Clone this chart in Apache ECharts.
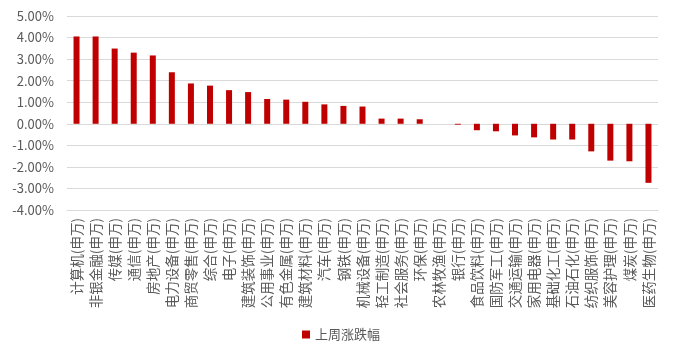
<!DOCTYPE html>
<html>
<head>
<meta charset="utf-8">
<script src="https://cdn.jsdelivr.net/npm/echarts@6/dist/echarts.min.js"></script>
<style>
  html, body { margin: 0; padding: 0; background: #fff; }
  #chart { width: 675px; height: 354px; }
</style>
</head>
<body>
<div id="chart"></div>
<script>
// 行业名称（申万一级）
const industries = [
  '计算机(申万)', '非银金融(申万)', '传媒(申万)', '通信(申万)', '房地产(申万)',
  '电力设备(申万)', '商贸零售(申万)', '综合(申万)', '电子(申万)', '建筑装饰(申万)',
  '公用事业(申万)', '有色金属(申万)', '建筑材料(申万)', '汽车(申万)', '钢铁(申万)',
  '机械设备(申万)', '轻工制造(申万)', '社会服务(申万)', '环保(申万)', '农林牧渔(申万)',
  '银行(申万)', '食品饮料(申万)', '国防军工(申万)', '交通运输(申万)', '家用电器(申万)',
  '基础化工(申万)', '石油石化(申万)', '纺织服饰(申万)', '美容护理(申万)', '煤炭(申万)',
  '医药生物(申万)'
]
// 上周涨跌幅 (%)
const weeklyChange = [
  4.05, 4.05, 3.49, 3.30, 3.17,
  2.39, 1.87, 1.77, 1.56, 1.47,
  1.15, 1.12, 1.02, 0.90, 0.83,
  0.80, 0.24, 0.24, 0.21, 0.00,
  -0.04, -0.30, -0.35, -0.54, -0.63,
  -0.73, -0.73, -1.28, -1.71, -1.74,
  -2.74
]
const seriesName = '上周涨跌幅'

const font = '"Noto Sans CJK SC", "Noto Sans", sans-serif'
const chart = echarts.init(document.getElementById('chart'))
chart.setOption({
  animation: false,
  textStyle: { fontFamily: font },
  grid: { left: 67, right: 17, top: 16, bottom: 144 },
  legend: {
    data: [seriesName],
    left: 297,
    top: 323,
    icon: 'rect',
    itemWidth: 8,
    itemHeight: 8,
    itemGap: 10,
    textStyle: { color: '#595959', fontSize: 13, fontFamily: font }
  },
  xAxis: {
    type: 'category',
    data: industries,
    position: 'bottom',
    axisLine: { onZero: false, lineStyle: { color: '#d9d9d9' } },
    axisTick: { show: false },
    axisLabel: {
      interval: 0,
      rotate: 90,
      margin: 8,
      color: '#595959',
      fontSize: 13.5,
      fontFamily: font
    }
  },
  yAxis: {
    type: 'value',
    min: -4,
    max: 5,
    interval: 1,
    axisLine: { show: false },
    axisTick: { show: false },
    splitLine: { lineStyle: { color: '#d9d9d9' } },
    axisLabel: {
      margin: 13,
      color: '#595959',
      fontSize: 13,
      fontFamily: font,
      formatter: v => v.toFixed(2) + '%'
    }
  },
  series: [{
    name: seriesName,
    type: 'bar',
    data: weeklyChange,
    barWidth: 6,
    itemStyle: { color: '#C00000' }
  }]
})
</script>
</body>
</html>
